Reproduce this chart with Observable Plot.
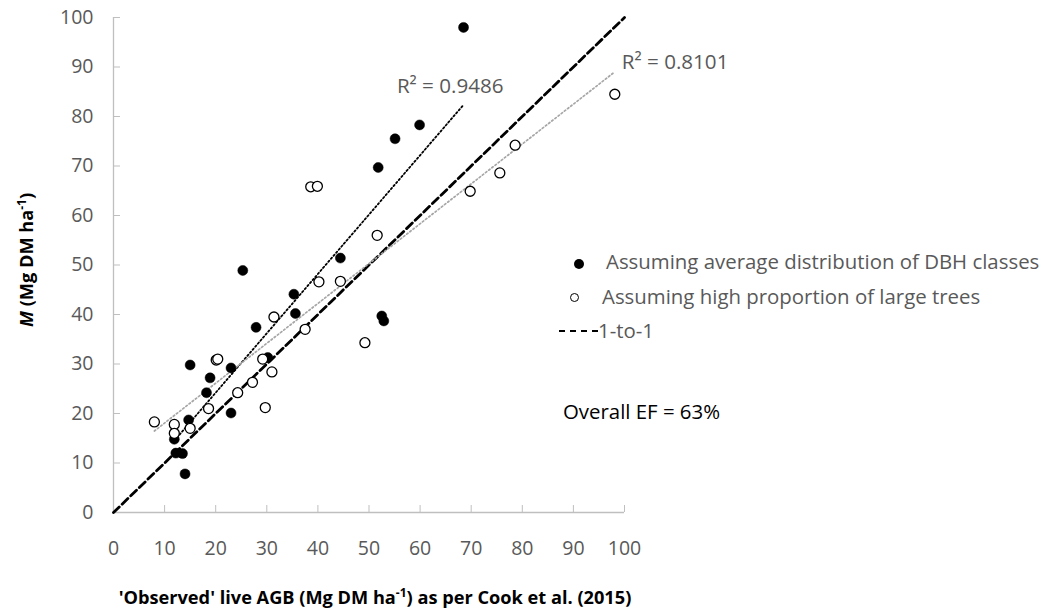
<!DOCTYPE html>
<html><head><meta charset="utf-8">
<script src="https://cdn.jsdelivr.net/npm/d3@7"></script>
<script src="https://cdn.jsdelivr.net/npm/@observablehq/plot@0.6"></script>
<style>
body{margin:0;background:#fff;}
#wrap{position:relative;width:1055px;height:613px;overflow:hidden;background:#fff;}
.leg{position:absolute;font-family:"Open Sans", sans-serif;font-size:20.4px;color:#595959;white-space:nowrap;line-height:20px;height:20px;letter-spacing:0.2px;}
</style></head><body><div id="wrap"></div>
<script>
// Series 1: assuming average distribution of DBH classes (filled)
const avgX = [68.5, 59.9, 55.1, 51.8, 44.4, 25.3, 35.3, 35.6, 52.5, 52.9, 27.9, 30.2, 15.0, 23.0, 18.9, 18.2, 23.0, 14.7, 11.9, 12.2, 13.5, 14.0];
const avgY = [98.0, 78.3, 75.5, 69.7, 51.4, 48.9, 44.1, 40.2, 39.7, 38.7, 37.4, 31.3, 29.8, 29.2, 27.2, 24.2, 20.1, 18.7, 14.8, 12.0, 11.9, 7.8];
// Series 2: assuming high proportion of large trees (open)
const largeX = [98.1, 78.6, 75.6, 69.8, 38.6, 39.9, 51.6, 40.2, 44.4, 31.4, 37.5, 49.2, 20.1, 20.4, 29.2, 31.0, 27.2, 24.3, 29.7, 18.6, 8.0, 11.9, 15.0, 11.9];
const largeY = [84.5, 74.2, 68.6, 64.9, 65.8, 65.9, 56.0, 46.6, 46.7, 39.5, 37.0, 34.3, 30.8, 31.0, 31.0, 28.4, 26.3, 24.2, 21.2, 21.0, 18.3, 17.8, 17.0, 16.0];
const ticks = [0, 10, 20, 30, 40, 50, 60, 70, 80, 90, 100];
const oneToOne = [0, 100];
const r2Labels = ["R² = 0.9486", "R² = 0.8101"];
const legendLabels = ["Assuming average distribution of DBH classes", "Assuming high proportion of large trees", "1-to-1"];
const efLabel = "Overall EF = 63%";

const avg = avgX.map((x, i) => ({x, y: avgY[i]}));
const large = largeX.map((x, i) => ({x, y: largeY[i]}));

function fitEnd(data, text) {
  const mx = d3.mean(data, d => d.x), my = d3.mean(data, d => d.y);
  const b = d3.sum(data, d => (d.x - mx) * (d.y - my)) / d3.sum(data, d => (d.x - mx) ** 2);
  const a = my - b * mx;
  const xm = d3.max(data, d => d.x);
  return [{x: xm, y: a + b * xm, text}];
}

const FONT = "'Open Sans', sans-serif";

const chart = Plot.plot({
  width: 1055, height: 613,
  marginLeft: 113, marginRight: 431, marginTop: 17, marginBottom: 101,
  x: {domain: [0, 100]}, y: {domain: [0, 100]},
  style: {fontFamily: FONT, fontSize: "19.5px", color: "#595959", background: "white"},
  marks: [
    Plot.ruleX([0], {stroke: "#bfbfbf", strokeWidth: 1.3}),
    Plot.ruleY([0], {stroke: "#bfbfbf", strokeWidth: 1.3}),
    Plot.axisX(ticks, {tickSize: -7, tickPadding: 36, stroke: "#bfbfbf", fill: "#595959", label: null}),
    Plot.axisY(ticks, {tickSize: -7, tickPadding: 27, stroke: "#bfbfbf", fill: "#595959", label: null}),
    Plot.line(oneToOne, {x: d => d, y: d => d, stroke: "black", strokeWidth: 2.8, strokeDasharray: "8,4"}),
    Plot.linearRegressionY(avg, {x: "x", y: "y", ci: 0, stroke: "black", strokeWidth: 1.8, strokeDasharray: "1.6,2.4"}),
    Plot.linearRegressionY(large, {x: "x", y: "y", ci: 0, stroke: "#a6a6a6", strokeWidth: 1.7, strokeDasharray: "1.6,2.4"}),
    Plot.dot(avg, {x: "x", y: "y", r: 5, fill: "black", stroke: "black", strokeWidth: 0.5}),
    Plot.dot(large, {x: "x", y: "y", r: 5, fill: "white", stroke: "black", strokeWidth: 1.3}),
    Plot.text(fitEnd(avg, r2Labels[0]), {x: "x", y: "y", text: "text", textAnchor: "end", dx: 40, dy: -18, fill: "#595959", fontSize: 20.6}),
    Plot.text(fitEnd(large, r2Labels[1]), {x: "x", y: "y", text: "text", textAnchor: "start", dx: 7, dy: -9, fill: "#595959", fontSize: 20.6})
  ]
});

const wrap = document.getElementById("wrap");
wrap.appendChild(chart);

// axis titles
const svg = d3.select(chart);
const yt = svg.append("text")
  .attr("transform", "translate(33,260) rotate(-90)")
  .attr("text-anchor", "middle")
  .attr("font-family", FONT).attr("font-weight", "bold").attr("font-size", 18.2).attr("fill", "black");
yt.append("tspan").attr("font-style", "italic").text("M");
yt.append("tspan").text(" (Mg DM ha");
yt.append("tspan").attr("font-size", 12).attr("dy", -7).text("-1");
yt.append("tspan").attr("dy", 7).text(")");

const xt = svg.append("text")
  .attr("x", 375).attr("y", 604)
  .attr("text-anchor", "middle")
  .attr("font-family", FONT).attr("font-weight", "bold").attr("font-size", 18.2).attr("fill", "black");
xt.append("tspan").text("'Observed' live AGB (Mg DM ha");
xt.append("tspan").attr("font-size", 12).attr("dy", -7).text("-1");
xt.append("tspan").attr("dy", 7).text(") as per Cook et al. (2015)");

// legend (HTML overlay)
function addDiv(html, left, top, cls, style) {
  const d = document.createElement("div");
  d.className = cls || "";
  d.style.left = left + "px"; d.style.top = top + "px";
  d.style.position = "absolute";
  if (style) Object.assign(d.style, style);
  d.textContent = html;
  wrap.appendChild(d);
  return d;
}
addDiv("", 574, 259, "", {width: "10px", height: "10px", borderRadius: "50%", background: "black"});
addDiv(legendLabels[0], 606, 251, "leg", {letterSpacing: "0"});
addDiv("", 570, 293, "", {width: "7px", height: "7px", borderRadius: "50%", border: "1.3px solid black", background: "white"});
addDiv(legendLabels[1], 602, 286, "leg", {letterSpacing: "0"});
addDiv("", 559, 330, "", {width: "39px", height: "0", borderTop: "2.6px dashed black"});
addDiv(legendLabels[2], 598, 320, "leg", {letterSpacing: "0"});
addDiv(efLabel, 563, 401, "leg", {color: "black", letterSpacing: "0"});
</script></body></html>
